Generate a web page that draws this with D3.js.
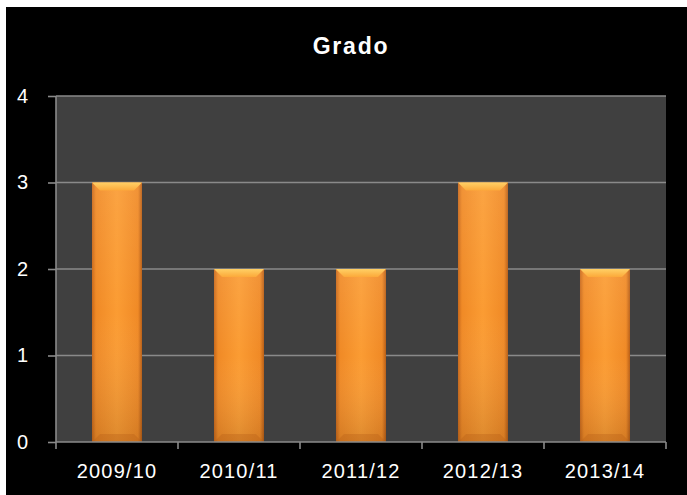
<!DOCTYPE html>
<html><head><meta charset="utf-8">
<script src="https://cdn.jsdelivr.net/npm/d3@7"></script>
<style>html,body{margin:0;padding:0;background:#fff;}svg{display:block;}</style>
</head><body>
<script>
const categories = ["2009/10","2010/11","2011/12","2012/13","2013/14"];
const values = [3,2,2,3,2];
const yTicks = [0,1,2,3,4];
const title = "Grado";

const W = 687, H = 495;
const svg = d3.select("body").append("svg").attr("width", W).attr("height", H);
svg.append("rect").attr("x",6).attr("y",7).attr("width",W-6).attr("height",H-7).attr("fill","#000");

const m = {left:56, right:666, top:96, bottom:442};
const x = d3.scaleBand().domain(categories).range([m.left, m.right]).paddingInner(0.59).paddingOuter(0.295);
const y = d3.scaleLinear().domain([0,4]).range([m.bottom, m.top]);

const defs = svg.append("defs");
const gh = defs.append("linearGradient").attr("id","gh").attr("x1","0").attr("x2","1").attr("y1","0").attr("y2","0");
[[0,"#c8681a"],[0.08,"#f08a26"],[0.5,"#fb9c33"],[0.92,"#f08a26"],[1,"#b85e16"]].forEach(s=>gh.append("stop").attr("offset",s[0]).attr("stop-color",s[1]));
const gv = defs.append("linearGradient").attr("id","gv").attr("x1","0").attr("x2","0").attr("y1","0").attr("y2","1");
[[0,"#fff",0.08],[0.5,"#fff",0],[1,"#000",0.12]].forEach(s=>gv.append("stop").attr("offset",s[0]).attr("stop-color",s[1]).attr("stop-opacity",s[2]));
const gt = defs.append("linearGradient").attr("id","gt").attr("x1","0").attr("x2","0").attr("y1","0").attr("y2","1");
[[0,"#ffd066"],[1,"#fca93a"]].forEach(s=>gt.append("stop").attr("offset",s[0]).attr("stop-color",s[1]));

svg.append("rect").attr("x",m.left).attr("y",m.top).attr("width",m.right-m.left).attr("height",m.bottom-m.top).attr("fill","#404040");

// gridlines
svg.append("g").selectAll("line").data(yTicks.filter(d=>d>0)).join("line")
  .attr("x1",m.left).attr("x2",m.right).attr("y1",d=>y(d)).attr("y2",d=>y(d))
  .attr("stroke","#8a8a8a").attr("stroke-width",1.6);

// bars
const bars = svg.append("g").selectAll("g").data(categories.map((c,i)=>({c,v:values[i]}))).join("g");
bars.append("rect").attr("x",d=>x(d.c)).attr("y",d=>y(d.v)).attr("width",x.bandwidth()).attr("height",d=>y(0)-y(d.v)).attr("fill","url(#gh)");
bars.append("rect").attr("x",d=>x(d.c)).attr("y",d=>y(d.v)).attr("width",x.bandwidth()).attr("height",d=>y(0)-y(d.v)).attr("fill","url(#gv)");
bars.append("path").attr("d",d=>{
  const x0=x(d.c), x1=x0+x.bandwidth(), t=y(d.v), b=8;
  return `M${x0},${t}L${x1},${t}L${x1-b},${t+b}L${x0+b},${t+b}Z`;
}).attr("fill","url(#gt)");
bars.append("path").attr("d",d=>{
  const x0=x(d.c), x1=x0+x.bandwidth(), t=y(0), b=8;
  return `M${x0},${t}L${x1},${t}L${x1-b},${t-b}L${x0+b},${t-b}Z`;
}).attr("fill","#b85e16").attr("opacity",0.35);

// axes
const fontFam = "'Liberation Sans', Arial, sans-serif";
const ya = svg.append("g").attr("transform",`translate(${m.left},0)`).call(d3.axisLeft(y).tickValues(yTicks).tickSize(8).tickPadding(20).tickFormat(d3.format("d")));
const xa = svg.append("g").attr("transform",`translate(0,${m.bottom})`).call(d3.axisBottom(x).tickSize(0));
xa.selectAll(".tick line").remove();
xa.selectAll(".tick text").attr("y",36).attr("dy","0").attr("letter-spacing",1.2);
xa.append("g").selectAll("line").data(d3.range(categories.length+1)).join("line")
  .attr("x1",i=>m.left+i*x.step()).attr("x2",i=>m.left+i*x.step()).attr("y1",0).attr("y2",7)
  .attr("stroke","#8a8a8a").attr("stroke-width",1.6);
[ya,xa].forEach(a=>{
  a.select(".domain").attr("stroke","#8a8a8a").attr("stroke-width",1.6);
  a.selectAll(".tick line").attr("stroke","#8a8a8a").attr("stroke-width",1.6);
  a.selectAll("text").attr("fill","#fff").attr("font-size",20).attr("font-family",fontFam);
});
ya.selectAll(".tick text").attr("dy","0.3em");
ya.select(".domain").attr("d",`M0,${m.bottom}V${m.top}`);
xa.select(".domain").attr("d",`M${m.left},0H${m.right}`);

svg.append("text").attr("x",351).attr("y",54).attr("text-anchor","middle").attr("letter-spacing",1.8)
  .attr("fill","#fff").attr("font-size",23).attr("font-weight","bold").attr("font-family",fontFam).text(title);
</script>
</body></html>
